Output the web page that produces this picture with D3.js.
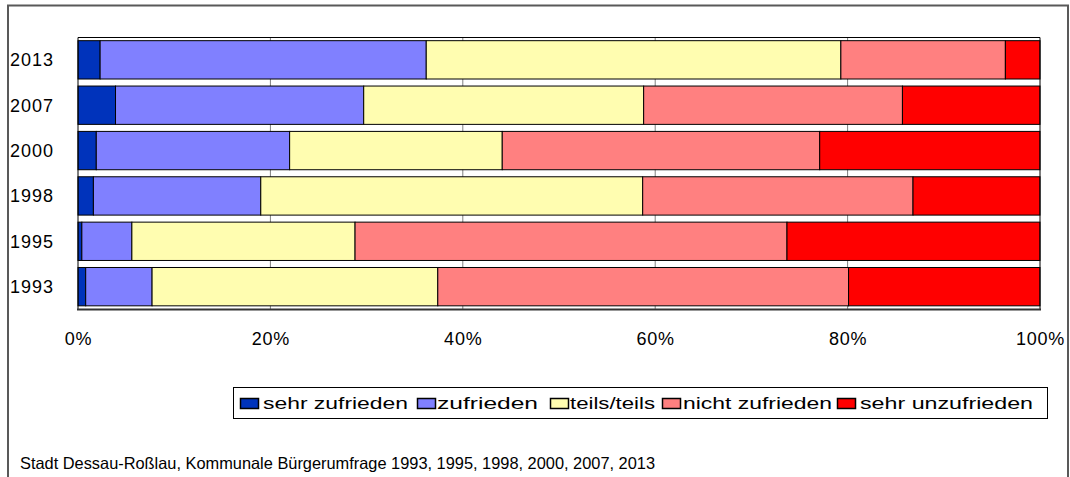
<!DOCTYPE html>
<html>
<head>
<meta charset="utf-8">
<script src="https://cdn.jsdelivr.net/npm/d3@7"></script>
<style>
  body { margin: 0; background: #fff; }
  svg { display: block; font-family: "Liberation Sans", Arial, sans-serif; }
</style>
</head>
<body>
<div id="chart"></div>
<script>
// data (percent of answers per survey year)
const years = ["2013", "2007", "2000", "1998", "1995", "1993"];
const categories = ["sehr zufrieden", "zufrieden", "teils/teils", "nicht zufrieden", "sehr unzufrieden"];
const sehrZufrieden   = [2.3, 3.9, 1.9, 1.6, 0.4, 0.8];
const zufrieden       = [33.9, 25.8, 20.1, 17.4, 5.2, 6.9];
const teilsTeils      = [43.1, 29.1, 22.1, 39.7, 23.2, 29.7];
const nichtZufrieden  = [17.1, 26.9, 33.0, 28.1, 44.9, 42.7];
const sehrUnzufrieden = [3.6, 14.3, 22.9, 13.2, 26.3, 19.9];
const xTicks = [0, 20, 40, 60, 80, 100];
const footer = "Stadt Dessau-Roßlau,  Kommunale Bürgerumfrage 1993, 1995, 1998, 2000, 2007, 2013";

const colors = ["#0033bb", "#8080ff", "#fffdb0", "#ff8080", "#ff0000"];

const width = 1070, height = 477;
const plot = {left: 78, right: 1040, top: 37.5, bottom: 309};

// legend layout (x of swatch, x of text, text width)
const legendSwatchX = [240, 417, 550, 662, 837];
const legendTextX = [263, 437, 570, 683, 860];
const legendTextW = [145, 101, 85, 149, 173];

// build rows for the stack
const series = [sehrZufrieden, zufrieden, teilsTeils, nichtZufrieden, sehrUnzufrieden];
const rows = years.map((y, i) => {
  const r = {year: y};
  categories.forEach((c, j) => { r[c] = series[j][i]; });
  return r;
});
const stacked = d3.stack().keys(categories)(rows);

const x = d3.scaleLinear().domain([0, 100]).range([plot.left, plot.right]);
const y = d3.scaleBand().domain(years).range([plot.top, plot.bottom])
  .paddingInner(0.155).paddingOuter(0.07);

const svg = d3.select('#chart').append('svg')
  .attr('width', width)
  .attr('height', height);

svg.append('rect').attr('width', width).attr('height', height).attr('fill', '#fff');

// outer frame (bottom edge is cut off)
svg.append('path')
  .attr('d', `M8,${height} V5.5 H1068 V${height}`)
  .attr('fill', 'none')
  .attr('stroke', '#595959')
  .attr('stroke-width', 2);

// gridlines
svg.append('g').selectAll('line')
  .data(xTicks.slice(1, -1))
  .enter().append('line')
    .attr('x1', d => x(d)).attr('x2', d => x(d))
    .attr('y1', plot.top).attr('y2', plot.bottom)
    .attr('stroke', '#808080')
    .attr('stroke-width', 1);

// bars
svg.append('g').selectAll('g')
  .data(stacked)
  .enter().append('g')
    .attr('fill', (d, i) => colors[i])
  .selectAll('rect')
  .data(d => d)
  .enter().append('rect')
    .attr('x', d => x(d[0]))
    .attr('y', d => y(d.data.year))
    .attr('width', d => x(d[1]) - x(d[0]))
    .attr('height', y.bandwidth())
    .attr('stroke', '#000')
    .attr('stroke-width', 1);

// plot frame
svg.append('path')
  .attr('d', `M${plot.left},${plot.bottom} V${plot.top} H${plot.right} V${plot.bottom}`)
  .attr('fill', 'none')
  .attr('stroke', '#000')
  .attr('stroke-width', 1);
svg.append('line')
  .attr('x1', plot.left - 1).attr('x2', plot.right + 1)
  .attr('y1', plot.bottom + 0.5).attr('y2', plot.bottom + 0.5)
  .attr('stroke', '#333')
  .attr('stroke-width', 2);

// x axis
const xAxis = d3.axisBottom(x).tickValues(xTicks).tickFormat(d => d + '%')
  .tickSize(0).tickPadding(23);
const gx = svg.append('g')
  .attr('transform', `translate(0,${plot.bottom})`)
  .call(xAxis);
gx.select('.domain').remove();
gx.selectAll('text')
  .attr('font-family', '"Liberation Sans", Arial, sans-serif')
  .attr('font-size', 18)
  .attr('fill', '#000')
  .attr('letter-spacing', 0.8);

// y labels
svg.append('g').selectAll('text')
  .data(years)
  .enter().append('text')
    .attr('x', 10)
    .attr('y', d => y(d) + y.bandwidth() / 2 + 6.5)
    .attr('font-size', 18)
    .attr('letter-spacing', 1)
    .text(d => d);

// legend
const legend = svg.append('g');
legend.append('rect')
  .attr('x', 233.5).attr('y', 387.5)
  .attr('width', 814).attr('height', 31)
  .attr('fill', '#fff')
  .attr('stroke', '#000');
categories.forEach((c, i) => {
  legend.append('rect')
    .attr('x', legendSwatchX[i] + 0.5).attr('y', 398.5)
    .attr('width', 18).attr('height', 10)
    .attr('fill', colors[i])
    .attr('stroke', '#000')
    .attr('stroke-width', 1.5);
  legend.append('text')
    .attr('x', legendTextX[i]).attr('y', 409)
    .attr('font-size', 17)
    .attr('textLength', legendTextW[i])
    .attr('lengthAdjust', 'spacingAndGlyphs')
    .text(c);
});

// source line
svg.append('text')
  .attr('x', 20).attr('y', 469)
  .attr('font-size', 16.5)
  .attr('textLength', 635)
  .attr('lengthAdjust', 'spacingAndGlyphs')
  .text(footer);
</script>
</body>
</html>
